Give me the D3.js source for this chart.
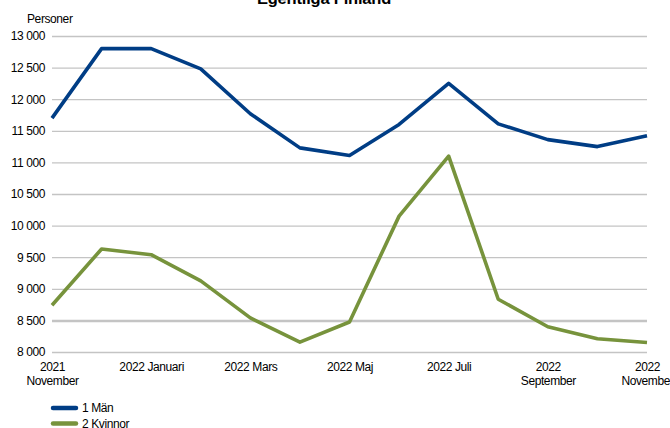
<!DOCTYPE html>
<html>
<head>
<meta charset="utf-8">
<script src="https://cdn.jsdelivr.net/npm/d3@7"></script>
<style>
  body { margin: 0; background: #fff; }
  svg { font-family: "Liberation Sans", Arial, sans-serif; }
</style>
</head>
<body>
<div id="chart"></div>
<script>
// data
const months = ["2021 November", "2021 December", "2022 Januari", "2022 Februari", "2022 Mars",
    "2022 April", "2022 Maj", "2022 Juni", "2022 Juli", "2022 Augusti", "2022 September",
    "2022 Oktober", "2022 November"];
const man = [11700, 12800, 12800, 12480, 11770, 11230, 11110, 11600, 12250, 11610, 11360, 11250, 11420];
const kvinnor = [8740, 9630, 9540, 9125, 8540, 8155, 8475, 10150, 11100, 8835, 8400, 8210, 8150];
const yTicks = [8000, 8500, 9000, 9500, 10000, 10500, 11000, 11500, 12000, 12500, 13000];
const xTickMonths = ["2021 November", "2022 Januari", "2022 Mars", "2022 Maj", "2022 Juli", "2022 September", "2022 November"];
const xTickLabels = ["2021\nNovember", "2022 Januari", "2022 Mars", "2022 Maj", "2022 Juli", "2022\nSeptember", "2022\nNovember"];
const seriesNames = ["1 Män", "2 Kvinnor"];

const margin = {top: 36, right: 23, bottom: 76, left: 52},
    width = 670 - margin.left - margin.right,
    height = 428 - margin.top - margin.bottom;

const svg = d3.select("#chart").append("svg")
    .attr("width", 670)
    .attr("height", 428);

const g = svg.append("g")
    .attr("transform", `translate(${margin.left},${margin.top})`);

const x = d3.scalePoint().domain(months).range([0, width]);
const y = d3.scaleLinear().domain([8000, 13000]).range([height, 0]);

const fmt = d => d3.format(",")(d).replace(",", " ");

// y axis + gridlines
const yAxis = g.append("g")
    .call(d3.axisLeft(y).tickValues(yTicks).tickSize(-width).tickPadding(7).tickFormat(fmt));
yAxis.select(".domain").remove();
yAxis.selectAll("line")
    .attr("stroke", "#c4c4c4")
    .attr("stroke-width", d => d === 8500 ? 2.5 : 1.3);
yAxis.selectAll("text")
    .attr("font-size", 12)
    .attr("letter-spacing", "-0.4px")
    .attr("fill", "#000");

// x axis labels
const xAxis = g.append("g")
    .attr("transform", `translate(0,${height})`)
    .call(d3.axisBottom(x).tickValues(xTickMonths).tickSize(0).tickFormat(""));
xAxis.select(".domain").remove();
xAxis.selectAll(".tick text").remove();
xAxis.selectAll(".tick").each(function(d, i) {
    const lines = xTickLabels[i].split("\n");
    const t = d3.select(this).append("text")
        .attr("text-anchor", "middle")
        .attr("font-size", 12)
        .attr("letter-spacing", "-0.4px")
        .attr("fill", "#000");
    lines.forEach((s, j) => {
        t.append("tspan").attr("x", 0).attr("y", 19 + j * 14).text(s);
    });
});

// lines
const line = d3.line().x((d, i) => x(months[i])).y(d => y(d));

g.append("path").datum(man)
    .attr("fill", "none")
    .attr("stroke", "#003d85")
    .attr("stroke-width", 3.6)
    .attr("stroke-linejoin", "round")
    .attr("d", line);

g.append("path").datum(kvinnor)
    .attr("fill", "none")
    .attr("stroke", "#77933c")
    .attr("stroke-width", 3.6)
    .attr("stroke-linejoin", "round")
    .attr("d", line);

// title and unit
svg.append("text")
    .attr("x", 324).attr("y", 3.5)
    .attr("text-anchor", "middle")
    .attr("font-size", 16.5)
    .attr("font-weight", "bold")
    .attr("letter-spacing", "-0.2px")
    .text("Egentliga Finland");

svg.append("text")
    .attr("x", 27).attr("y", 23)
    .attr("font-size", 12)
    .attr("letter-spacing", "-0.4px")
    .text("Personer");

// legend
const colors = ["#003d85", "#77933c"];
const legend = svg.append("g").attr("transform", "translate(52,408)");
seriesNames.forEach((name, i) => {
    legend.append("line")
        .attr("x1", 1).attr("x2", 24)
        .attr("y1", i * 15.5).attr("y2", i * 15.5)
        .attr("stroke", colors[i])
        .attr("stroke-width", 4.5)
        .attr("stroke-linecap", "round");
    legend.append("text")
        .attr("x", 30).attr("y", i * 15.5 + 4)
        .attr("font-size", 12)
        .attr("letter-spacing", "-0.4px")
        .text(name);
});
</script>
</body>
</html>
